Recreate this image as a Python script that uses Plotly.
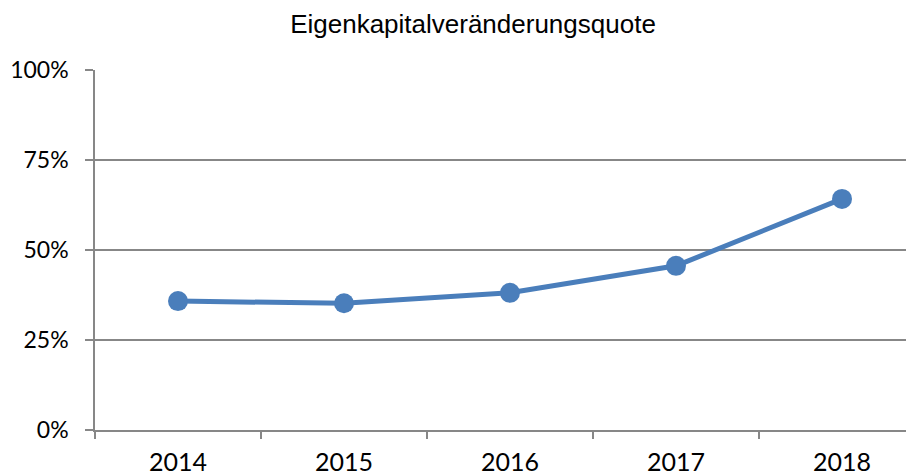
import plotly.graph_objects as go

years = ["2014", "2015", "2016", "2017", "2018"]
quote = [0.358, 0.352, 0.381, 0.456, 0.642]
y_ticks = [0, 0.25, 0.5, 0.75, 1.0]
y_labels = ["0%", "25%", "50%", "75%", "100%"]

grey = "#878787"
blue = "#4a7ebb"

fig = go.Figure(go.Scatter(
    x=years, y=quote, mode="lines+markers",
    line=dict(color=blue, width=5),
    marker=dict(color=blue, size=20),
    hoverinfo="x+y",
))

# page body has an 8px margin, so figure coordinates are offset by 8px
W = 917
fig.update_layout(
    width=W, height=476,
    margin=dict(l=87, r=0, t=62, b=54),
    paper_bgcolor="white", plot_bgcolor="white",
    showlegend=False,
    title=dict(text="Eigenkapitalveränderungsquote", x=465/W, xanchor="center",
               y=1 - 16/476, yanchor="middle",
               font=dict(family="Liberation Sans, Arial", size=26, color="#000000")),
)
fig.update_xaxes(
    type="category", range=[-0.5, 4.5], automargin=False,
    showline=True, linecolor=grey, linewidth=1.5,
    ticks="outside", tickson="boundaries", ticklen=7, tickcolor=grey, tickwidth=1.5,
    showgrid=False, ticklabelstandoff=9,
    tickfont=dict(family="Lato, Carlito, Calibri", size=25, color="#000000"),
)
fig.update_yaxes(
    range=[0, 1], tickvals=y_ticks, ticktext=y_labels, automargin=False,
    showline=True, linecolor=grey, linewidth=1.5,
    ticks="outside", ticklen=8, tickcolor=grey, tickwidth=1.5,
    showgrid=True, gridcolor=grey, gridwidth=1.5,
    zeroline=False, ticklabelstandoff=12,
    tickfont=dict(family="Lato, Carlito, Calibri", size=23, color="#000000"),
)

fig.write_html("out.html")
